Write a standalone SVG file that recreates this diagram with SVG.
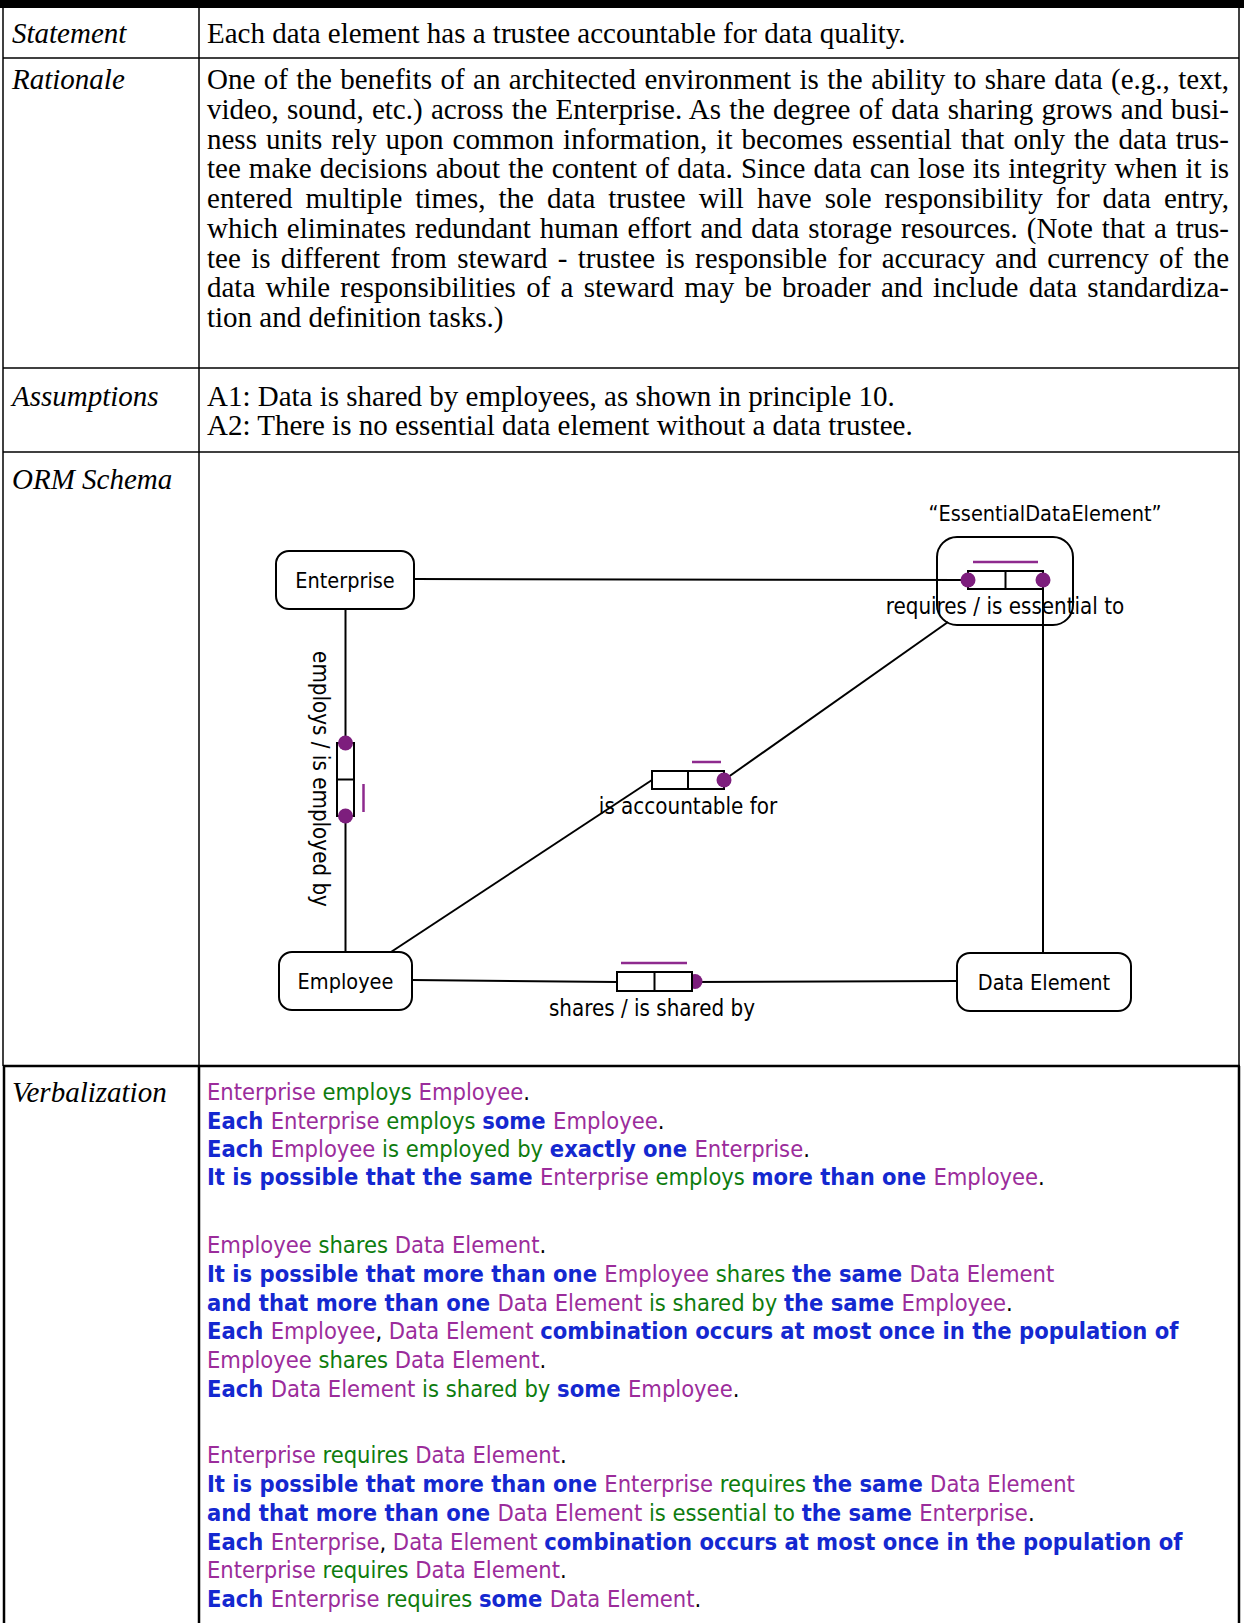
<svg xmlns="http://www.w3.org/2000/svg" width="1244" height="1623" viewBox="0 0 1244 1623">
<style>
.tt{font-family:'Liberation Serif','Times New Roman',serif;font-size:29px;fill:#000}
.it{font-style:italic}
.v{font-family:'DejaVu Sans Condensed','DejaVu Sans',sans-serif;font-size:23.5px;fill:#000}
.b{font-weight:bold;fill:#1428D0}
.p{fill:#9B2C9B}
.g{fill:#0E7C0E}
.k{fill:#000}
.grid{stroke:#000;stroke-width:1.5;fill:none}
.thick{stroke:#000;stroke-width:2.5;fill:none}
.node rect{fill:#fff;stroke:#000;stroke-width:2}
.nt{font-family:'DejaVu Sans Condensed','DejaVu Sans',sans-serif;font-size:21.5px;fill:#000;text-anchor:middle}
.ft{font-family:'DejaVu Sans Condensed','DejaVu Sans',sans-serif;font-size:22.2px;fill:#000;text-anchor:middle}
.role{fill:#fff;stroke:#000;stroke-width:2}
.dot{fill:#7D1E7D}
.uc{stroke:#8E2A8E;stroke-width:2.5}
.conn line{stroke:#000;stroke-width:2}
</style>
<rect x="0" y="0" width="1244" height="1623" fill="#fff"/>
<g id="table">
<rect x="0" y="0" width="1244" height="8" fill="#000"/>
<line class="grid" x1="3" y1="0" x2="3" y2="1066"/>
<line class="grid" x1="199" y1="8" x2="199" y2="1066"/>
<line class="grid" x1="1239" y1="8" x2="1239" y2="1066"/>
<line class="grid" x1="3" y1="58" x2="1239" y2="58"/>
<line class="grid" x1="3" y1="368" x2="1239" y2="368"/>
<line class="grid" x1="3" y1="452" x2="1239" y2="452"/>
<line class="thick" x1="3" y1="1066" x2="1240" y2="1066"/>
<line class="thick" x1="4" y1="1066" x2="4" y2="1623"/>
<line class="thick" x1="199" y1="1066" x2="199" y2="1623"/>
<line class="thick" x1="1239" y1="1066" x2="1239" y2="1623"/>
</g>
<g id="labels">
<text class="tt it" x="12" y="43">Statement</text>
<text class="tt it" x="12" y="89">Rationale</text>
<text class="tt it" x="12" y="406">Assumptions</text>
<text class="tt it" x="12" y="489">ORM Schema</text>
<text class="tt it" x="12" y="1102">Verbalization</text>
</g>
<g id="statement">
<text class="tt" x="207" y="43">Each data element has a trustee accountable for data quality.</text>
</g>
<g id="rationale">
<text class="tt" x="207" y="89" word-spacing="1.18" textLength="1022" lengthAdjust="spacing">One of the benefits of an architected environment is the ability to share data (e.g., text,</text>
<text class="tt" x="207" y="118.75" word-spacing="0.98" textLength="1022" lengthAdjust="spacing">video, sound, etc.) across the Enterprise. As the degree of data sharing grows and busi-</text>
<text class="tt" x="207" y="148.5" word-spacing="1.79" textLength="1022" lengthAdjust="spacing">ness units rely upon common information, it becomes essential that only the data trus-</text>
<text class="tt" x="207" y="178.25" word-spacing="0.8" textLength="1022" lengthAdjust="spacing">tee make decisions about the content of data. Since data can lose its integrity when it is</text>
<text class="tt" x="207" y="208" word-spacing="5.69" textLength="1022" lengthAdjust="spacing">entered multiple times, the data trustee will have sole responsibility for data entry,</text>
<text class="tt" x="207" y="237.75" word-spacing="1.61" textLength="1022" lengthAdjust="spacing">which eliminates redundant human effort and data storage resources. (Note that a trus-</text>
<text class="tt" x="207" y="267.5" word-spacing="3.06" textLength="1022" lengthAdjust="spacing">tee is different from steward - trustee is responsible for accuracy and currency of the</text>
<text class="tt" x="207" y="297.25" word-spacing="3.02" textLength="1022" lengthAdjust="spacing">data while responsibilities of a steward may be broader and include data standardiza-</text>
<text class="tt" x="207" y="327">tion and definition tasks.)</text>
</g>
<g id="assumptions">
<text class="tt" x="207" y="406">A1: Data is shared by employees, as shown in principle 10.</text>
<text class="tt" x="207" y="435">A2: There is no essential data element without a data trustee.</text>
</g>
<g id="connectors" class="conn">
<line x1="414" y1="579" x2="968" y2="580"/>
<line x1="345.5" y1="609" x2="345.5" y2="743"/>
<line x1="345.5" y1="816" x2="345.5" y2="952"/>
<line x1="412" y1="980" x2="617" y2="982"/>
<line x1="692" y1="982" x2="957" y2="981"/>
<line x1="1043" y1="580" x2="1043" y2="953"/>
<line x1="724" y1="780" x2="948" y2="622"/>
<line x1="652" y1="780" x2="391" y2="952"/>
</g>
<g id="node-enterprise" class="node">
<rect x="276" y="551" width="138" height="58" rx="13"/>
<text class="nt" x="345" y="588">Enterprise</text>
</g>
<g id="node-employee" class="node">
<rect x="279" y="952" width="133" height="58" rx="13"/>
<text class="nt" x="345.5" y="989">Employee</text>
</g>
<g id="node-dataelement" class="node">
<rect x="957" y="953" width="174" height="58" rx="13"/>
<text class="nt" x="1044" y="990">Data Element</text>
</g>
<g id="node-essential" class="node">
<rect x="937" y="537" width="136" height="88" rx="20" style="fill:none"/>
<text class="nt" x="1045" y="521">“EssentialDataElement”</text>
</g>
<g id="fact-requires">
<rect class="role" x="968" y="571" width="75" height="18"/>
<line x1="1005.5" y1="571" x2="1005.5" y2="589" stroke="#000" stroke-width="2"/>
<circle class="dot" cx="968" cy="580" r="7.5"/>
<circle class="dot" cx="1043" cy="580" r="7.5"/>
<line class="uc" x1="973" y1="562" x2="1038" y2="562"/>
<text class="ft" x="1005" y="614">requires / is essential to</text>
</g>
<g id="fact-accountable">
<rect class="role" x="652" y="771" width="72" height="18"/>
<line x1="688" y1="771" x2="688" y2="789" stroke="#000" stroke-width="2"/>
<circle class="dot" cx="724" cy="780" r="7.5"/>
<line class="uc" x1="692" y1="762" x2="721" y2="762"/>
<text class="ft" x="688" y="814">is accountable for</text>
</g>
<g id="fact-employs">
<rect class="role" x="337" y="743" width="17" height="73"/>
<line x1="337" y1="779.5" x2="354" y2="779.5" stroke="#000" stroke-width="2"/>
<circle class="dot" cx="345.5" cy="743" r="7.5"/>
<circle class="dot" cx="345.5" cy="816" r="7.5"/>
<line class="uc" x1="363.5" y1="784" x2="363.5" y2="812"/>
<text class="ft" transform="translate(313,779) rotate(90)" x="0" y="0">employs / is employed by</text>
</g>
<g id="fact-shares">
<circle class="dot" cx="695" cy="981.5" r="7.5"/>
<rect class="role" x="617" y="972" width="75" height="19"/>
<line x1="654.5" y1="972" x2="654.5" y2="991" stroke="#000" stroke-width="2"/>
<line class="uc" x1="621" y1="963" x2="687" y2="963"/>
<text class="ft" x="652" y="1016">shares / is shared by</text>
</g>
<g id="verbalization">
<text class="v" x="207" y="1100"><tspan class="p">Enterprise </tspan><tspan class="g">employs </tspan><tspan class="p">Employee</tspan><tspan class="k">.</tspan></text>
<text class="v" x="207" y="1129"><tspan class="b">Each </tspan><tspan class="p">Enterprise </tspan><tspan class="g">employs </tspan><tspan class="b">some </tspan><tspan class="p">Employee</tspan><tspan class="k">.</tspan></text>
<text class="v" x="207" y="1157"><tspan class="b">Each </tspan><tspan class="p">Employee </tspan><tspan class="g">is employed by </tspan><tspan class="b">exactly one </tspan><tspan class="p">Enterprise</tspan><tspan class="k">.</tspan></text>
<text class="v" x="207" y="1185"><tspan class="b">It is possible that the same </tspan><tspan class="p">Enterprise </tspan><tspan class="g">employs </tspan><tspan class="b">more than one </tspan><tspan class="p">Employee</tspan><tspan class="k">.</tspan></text>
<text class="v" x="207" y="1253"><tspan class="p">Employee </tspan><tspan class="g">shares </tspan><tspan class="p">Data Element</tspan><tspan class="k">.</tspan></text>
<text class="v" x="207" y="1282"><tspan class="b">It is possible that more than one </tspan><tspan class="p">Employee </tspan><tspan class="g">shares </tspan><tspan class="b">the same </tspan><tspan class="p">Data Element</tspan></text>
<text class="v" x="207" y="1311"><tspan class="b">and that more than one </tspan><tspan class="p">Data Element </tspan><tspan class="g">is shared by </tspan><tspan class="b">the same </tspan><tspan class="p">Employee</tspan><tspan class="k">.</tspan></text>
<text class="v" x="207" y="1339"><tspan class="b">Each </tspan><tspan class="p">Employee</tspan><tspan class="k">, </tspan><tspan class="p">Data Element </tspan><tspan class="b">combination occurs at most once in the population of</tspan></text>
<text class="v" x="207" y="1368"><tspan class="p">Employee </tspan><tspan class="g">shares </tspan><tspan class="p">Data Element</tspan><tspan class="k">.</tspan></text>
<text class="v" x="207" y="1397"><tspan class="b">Each </tspan><tspan class="p">Data Element </tspan><tspan class="g">is shared by </tspan><tspan class="b">some </tspan><tspan class="p">Employee</tspan><tspan class="k">.</tspan></text>
<text class="v" x="207" y="1463"><tspan class="p">Enterprise </tspan><tspan class="g">requires </tspan><tspan class="p">Data Element</tspan><tspan class="k">.</tspan></text>
<text class="v" x="207" y="1492"><tspan class="b">It is possible that more than one </tspan><tspan class="p">Enterprise </tspan><tspan class="g">requires </tspan><tspan class="b">the same </tspan><tspan class="p">Data Element</tspan></text>
<text class="v" x="207" y="1521"><tspan class="b">and that more than one </tspan><tspan class="p">Data Element </tspan><tspan class="g">is essential to </tspan><tspan class="b">the same </tspan><tspan class="p">Enterprise</tspan><tspan class="k">.</tspan></text>
<text class="v" x="207" y="1550"><tspan class="b">Each </tspan><tspan class="p">Enterprise</tspan><tspan class="k">, </tspan><tspan class="p">Data Element </tspan><tspan class="b">combination occurs at most once in the population of</tspan></text>
<text class="v" x="207" y="1578"><tspan class="p">Enterprise </tspan><tspan class="g">requires </tspan><tspan class="p">Data Element</tspan><tspan class="k">.</tspan></text>
<text class="v" x="207" y="1607"><tspan class="b">Each </tspan><tspan class="p">Enterprise </tspan><tspan class="g">requires </tspan><tspan class="b">some </tspan><tspan class="p">Data Element</tspan><tspan class="k">.</tspan></text>
</g>
</svg>
